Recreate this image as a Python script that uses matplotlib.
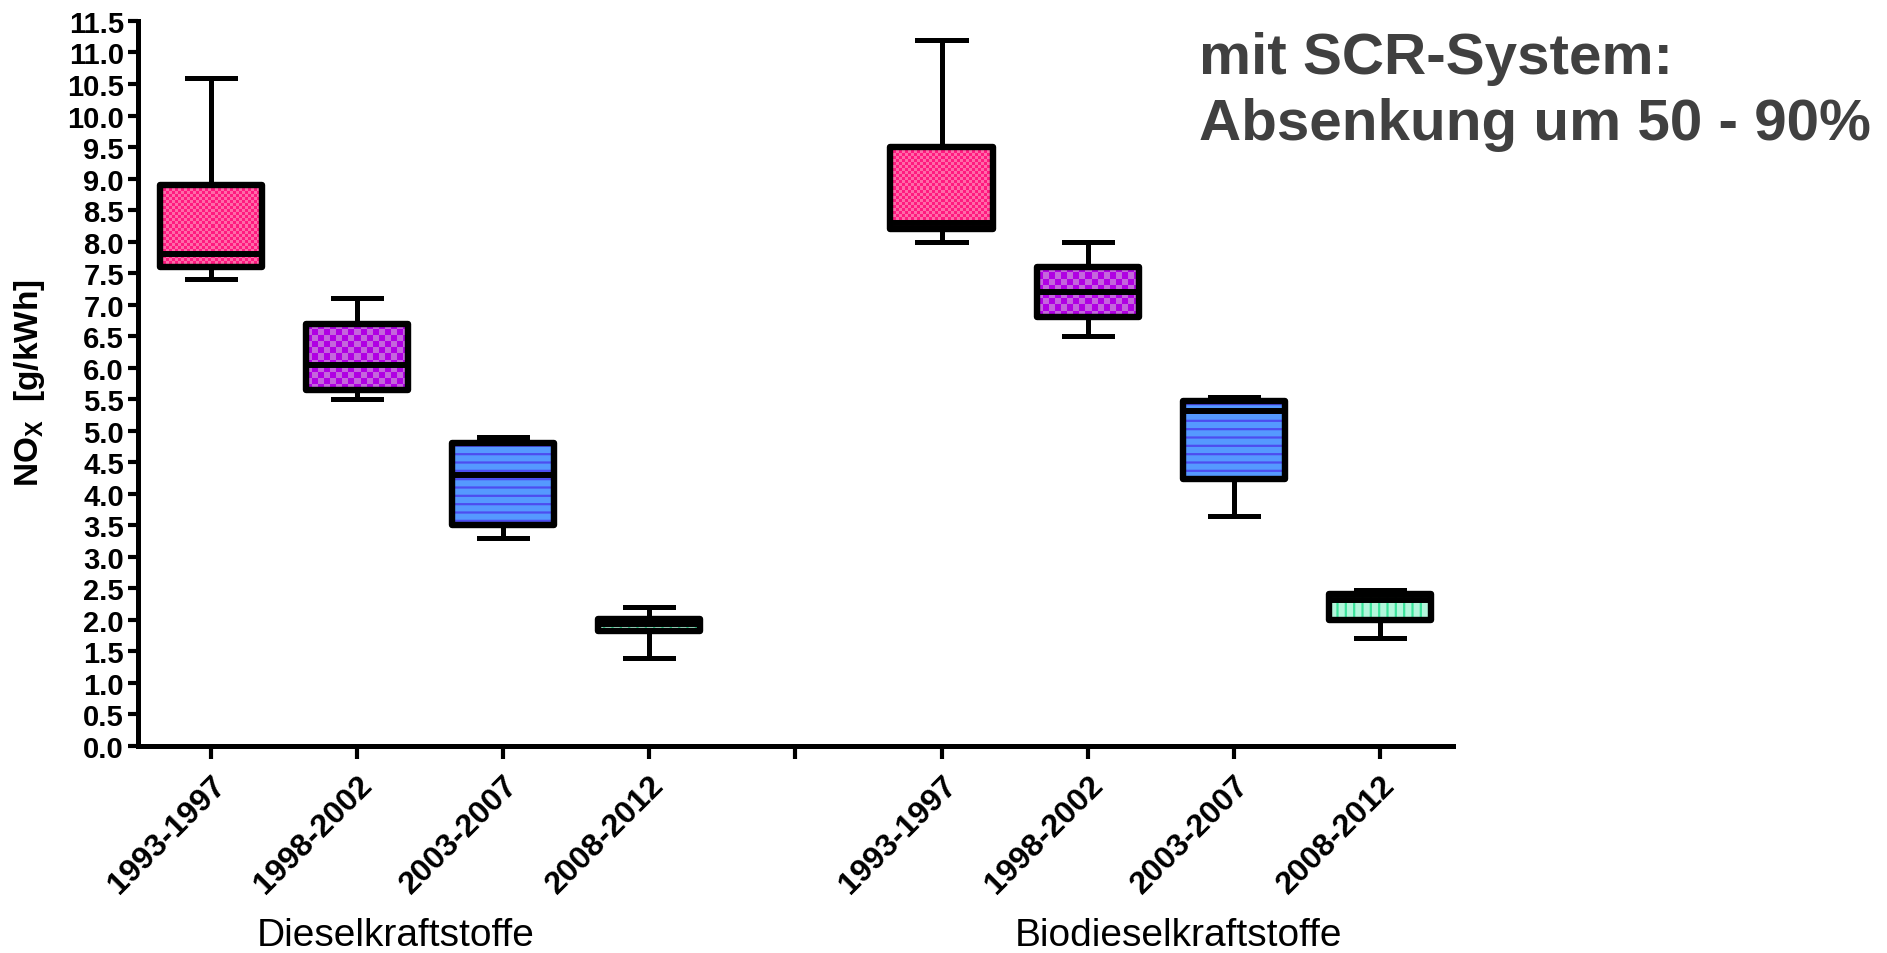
import matplotlib
matplotlib.use('Agg')
import matplotlib.pyplot as plt
import numpy as np
from matplotlib.colors import ListedColormap
from matplotlib.patches import PathPatch

plt.rcParams['font.family'] = ['Liberation Sans', 'DejaVu Sans']
plt.rcParams['mathtext.fontset'] = 'custom'
plt.rcParams['mathtext.rm'] = 'Liberation Sans'
plt.rcParams['mathtext.bf'] = 'Liberation Sans:bold'
plt.rcParams['hatch.linewidth'] = 1.6

periods = ['1993-1997', '1998-2002', '2003-2007', '2008-2012']
group_names = ['Dieselkraftstoffe', 'Biodieselkraftstoffe']

# whisker low, Q1, median, Q3, whisker high (NOx g/kWh)
diesel_low = [7.4, 5.5, 3.3, 1.4]
diesel_q1 = [7.6, 5.65, 3.5, 1.82]
diesel_med = [7.8, 6.05, 4.3, 1.93]
diesel_q3 = [8.9, 6.7, 4.8, 2.02]
diesel_high = [10.6, 7.1, 4.9, 2.2]

bio_low = [8.0, 6.5, 3.65, 1.71]
bio_q1 = [8.2, 6.8, 4.23, 2.0]
bio_med = [8.3, 7.2, 5.31, 2.32]
bio_q3 = [9.5, 7.6, 5.47, 2.41]
bio_high = [11.2, 8.0, 5.54, 2.47]

# per period: base colour, accent colour, pattern, checker cell size in px
fills = [
    ('#ff1a80', '#ff6aa8', 'checker', 3),
    ('#b000e3', '#c466dc', 'checker', 6),
    ('#5599ff', '#4d4df0', '--', None),
    ('#b3f7dc', '#3be59c', '||', None),
]


def _stats(low, q1, med, q3, high):
    return [dict(whislo=a, q1=b, med=c, q3=d, whishi=e, fliers=[])
            for a, b, c, d, e in zip(low, q1, med, q3, high)]


stats = (_stats(diesel_low, diesel_q1, diesel_med, diesel_q3, diesel_high)
         + _stats(bio_low, bio_q1, bio_med, bio_q3, bio_high))
positions = list(range(1, 5)) + list(range(6, 10))

fig = plt.figure(figsize=(18.87, 9.54), dpi=100)
ax = fig.add_axes([0.0731, 0.217, 0.6969, 0.760])
ax.set_xlim(0.5, 9.5)
ax.set_ylim(0, 11.5)

bp = ax.bxp(
    stats, positions=positions, widths=0.7, capwidths=0.33,
    patch_artist=True, showfliers=False, manage_ticks=False,
    boxprops=dict(facecolor='none', edgecolor='black', linewidth=4.6,
                  joinstyle='round'),
    whiskerprops=dict(color='black', linewidth=3.6),
    capprops=dict(color='black', linewidth=3.6),
    medianprops=dict(color='black', linewidth=4.3),
)

for box, (base, accent, kind, cell) in zip(bp['boxes'], fills * 2):
    path = box.get_path()
    under = PathPatch(path, facecolor=base, edgecolor='none', zorder=1)
    ax.add_patch(under)
    if kind == 'checker':
        x0, y0, x1, y1 = path.get_extents().extents
        (px0, py0), (px1, py1) = ax.transData.transform([(x0, y0), (x1, y1)])
        nx = max(1, int(round((px1 - px0) / cell)))
        ny = max(1, int(round((py1 - py0) / cell)))
        grid = np.indices((ny, nx)).sum(axis=0) % 2
        img = ax.imshow(grid, cmap=ListedColormap([base, accent]),
                        extent=(x0, x1, y0, y1), origin='lower',
                        aspect='auto', interpolation='nearest', zorder=1.5)
        img.set_clip_path(under)
    else:
        ax.add_patch(PathPatch(path, facecolor='none', edgecolor=accent,
                               linewidth=0, hatch=kind, zorder=1.5))

ax.set_xlim(0.5, 9.5)
ax.set_ylim(0, 11.5)

for side in ['top', 'right']:
    ax.spines[side].set_visible(False)
for side in ['left', 'bottom']:
    ax.spines[side].set_linewidth(3.6)

yticks = np.arange(0, 11.51, 0.5)
ax.set_yticks(yticks)
ax.set_yticklabels([f'{v:.1f}' for v in yticks], fontweight='bold',
                   fontsize=21)
ax.set_xticks(range(1, 10))
ax.set_xticklabels(periods + [''] + periods, rotation=45, ha='right',
                   va='top', rotation_mode='anchor', fontweight='bold',
                   fontsize=23)
ax.tick_params(axis='y', length=7, width=3, pad=3)
ax.tick_params(axis='x', length=9, width=3, pad=8)

fig.text(30 / 1887, 1 - 383 / 954, r'$\mathbf{NO_X}$  [g/kWh]',
         rotation=90, ha='center', va='center', fontsize=24,
         fontweight='bold')

for name, xc in zip(group_names, [396, 1178]):
    fig.text(xc / 1887, 1 - 936 / 954, name, ha='center', va='center',
             fontsize=28)

fig.text(1199 / 1887, 0.966, 'mit SCR-System:\nAbsenkung um 50 - 90%',
         ha='left', va='top', fontsize=42, fontweight='bold',
         color='#404040', linespacing=1.27)

fig.savefig('out.png', dpi=100)
